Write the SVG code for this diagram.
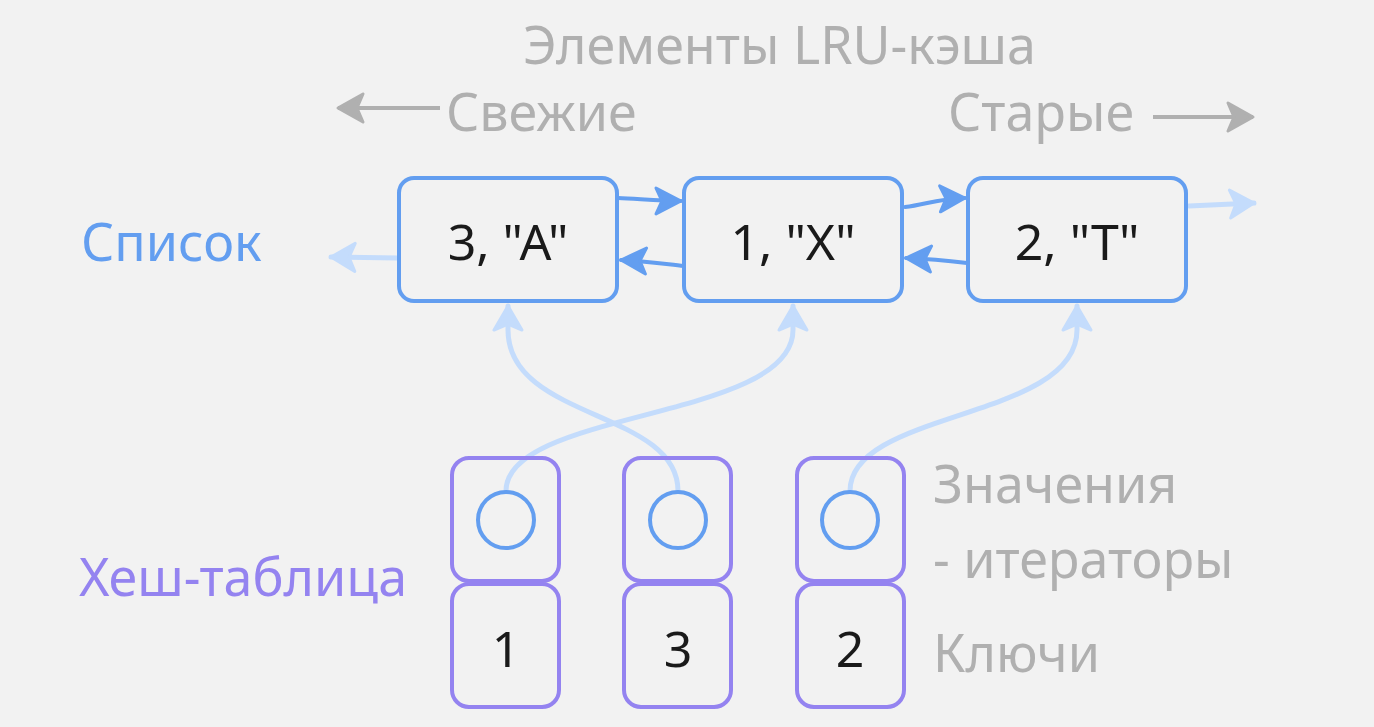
<svg xmlns="http://www.w3.org/2000/svg" width="1374" height="727" viewBox="0 0 1374 727">
<defs>
<style>
.t{font-family:"Noto Sans","Open Sans",sans-serif;}
.gray{fill:#b0b0b0;font-size:52px;}
.val{fill:#1a1a1a;font-size:50px;text-anchor:middle;}
.lnode{fill:none;stroke:#639ef0;stroke-width:4;}
.hnode{fill:none;stroke:#9483f0;stroke-width:4;}
.circ{fill:none;stroke:#639ef0;stroke-width:4;}
.blue{fill:none;stroke:#639ef0;stroke-width:4;stroke-linecap:round;}
.light{fill:none;stroke:#c4dcfc;stroke-width:5;stroke-linecap:round;}
.grayl{fill:none;stroke:#b0b0b0;stroke-width:4;}
</style>
<marker id="ab" markerUnits="userSpaceOnUse" viewBox="-30 -20 36 40" refX="0" refY="0" markerWidth="36" markerHeight="40" orient="auto">
<path d="M0,0 L-25,-13 L-19,0 L-25,13 Z" fill="#639ef0" stroke="#639ef0" stroke-width="3" stroke-linejoin="round"/>
</marker>
<marker id="al" markerUnits="userSpaceOnUse" viewBox="-30 -20 36 40" refX="0" refY="0" markerWidth="36" markerHeight="40" orient="auto">
<path d="M0,0 L-24,-14 L-18,0 L-24,14 Z" fill="#c4dcfc" stroke="#c4dcfc" stroke-width="3" stroke-linejoin="round"/>
</marker>
<marker id="ag" markerUnits="userSpaceOnUse" viewBox="-32 -20 38 40" refX="0" refY="0" markerWidth="38" markerHeight="40" orient="auto">
<path d="M0,0 L-25,-14 L-19,0 L-25,14 Z" fill="#b0b0b0" stroke="#b0b0b0" stroke-width="3" stroke-linejoin="round"/>
</marker>
</defs>
<rect width="1374" height="727" fill="#f2f2f2"/>

<g id="labels" class="t">
<text class="gray" x="779.5" y="64" text-anchor="middle">Элементы LRU-кэша</text>
<text class="gray" x="446" y="131">Свежие</text>
<text class="gray" x="948" y="131">Старые</text>
<text x="81" y="261" fill="#639ef0" font-size="52">Список</text>
<text x="79" y="596" fill="#9483f0" font-size="52">Хеш-таблица</text>
<text class="gray" x="933" y="503">Значения</text>
<text class="gray" x="933" y="578">- итераторы</text>
<text class="gray" x="933" y="672">Ключи</text>
</g>

<g id="connectors">
<path class="grayl" d="M440,108 L338,108" marker-end="url(#ag)"/>
<path class="grayl" d="M1153,117 L1253,117" marker-end="url(#ag)"/>
<path class="blue" d="M618,198 C640,199 660,201 681,201" marker-end="url(#ab)"/>
<path class="blue" d="M684,266 C665,264 645,261 621,260" marker-end="url(#ab)"/>
<path class="blue" d="M905,207 C925,205 935,199 965,198" marker-end="url(#ab)"/>
<path class="blue" d="M967,263 C950,261 930,259 906,258" marker-end="url(#ab)"/>
<path class="light" d="M398,258 L331,257" marker-end="url(#al)"/>
<path class="light" d="M1189,206 L1254,203" marker-end="url(#al)"/>
<path class="light" d="M506,491 C506,410 793,420 793,330 L793,306" marker-end="url(#al)"/>
<path class="light" d="M678,491 C678,410 508,420 508,330 L508,306" marker-end="url(#al)"/>
<path class="light" d="M850,491 C850,410 1077,420 1077,330 L1077,306" marker-end="url(#al)"/>
</g>

<g id="list-3A" class="t"><rect class="lnode" x="399" y="178" width="218" height="123" rx="15"/><text class="val" x="508" y="260">3, "A"</text></g>
<g id="list-1X" class="t"><rect class="lnode" x="684" y="178" width="218" height="123" rx="15"/><text class="val" x="793" y="260">1, "X"</text></g>
<g id="list-2T" class="t"><rect class="lnode" x="968" y="178" width="218" height="123" rx="15"/><text class="val" x="1077" y="260">2, "T"</text></g>

<g id="hash-1" class="t">
<rect class="hnode" x="452" y="458" width="107" height="123" rx="17"/>
<rect class="hnode" x="452" y="584" width="107" height="123" rx="17"/>
<circle class="circ" cx="506" cy="520" r="28"/>
<text class="val" x="506" y="667">1</text>
</g>
<g id="hash-3" class="t">
<rect class="hnode" x="624" y="458" width="107" height="123" rx="17"/>
<rect class="hnode" x="624" y="584" width="107" height="123" rx="17"/>
<circle class="circ" cx="678" cy="520" r="28"/>
<text class="val" x="678" y="667">3</text>
</g>
<g id="hash-2" class="t">
<rect class="hnode" x="797" y="458" width="107" height="123" rx="17"/>
<rect class="hnode" x="797" y="584" width="107" height="123" rx="17"/>
<circle class="circ" cx="850" cy="520" r="28"/>
<text class="val" x="850" y="667">2</text>
</g>
</svg>
